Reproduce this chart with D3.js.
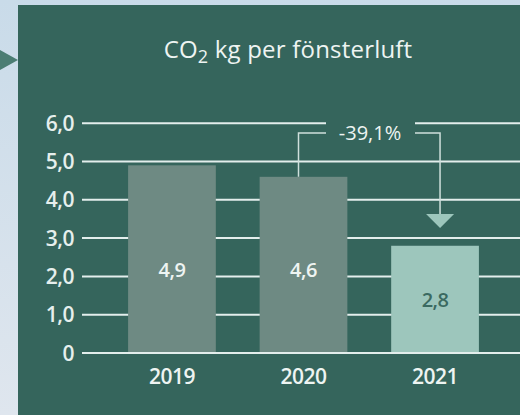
<!DOCTYPE html>
<html>
<head>
<meta charset="utf-8">
<script src="https://cdn.jsdelivr.net/npm/d3@7"></script>
<style>
  html, body { margin: 0; padding: 0; }
  body { width: 520px; height: 415px; overflow: hidden; font-family: "Open Sans", Lato, sans-serif; }
</style>
</head>
<body>
<div id="graf"></div>
<script>
// data
years   = ['2019', '2020', '2021']
values  = [4.9, 4.6, 2.8]
yTicks  = [0, 1, 2, 3, 4, 5, 6]
change  = '-39,1%'

ancho_total = 520
alto_total  = 415

svg = d3.select('#graf').append('svg')
  .attr('width', ancho_total)
  .attr('height', alto_total)

// background
defs = svg.append('defs')
grad = defs.append('linearGradient').attr('id', 'bg').attr('x1', 0).attr('y1', 0).attr('x2', 0).attr('y2', 1)
grad.append('stop').attr('offset', '0%').attr('stop-color', '#c9dbe9')
grad.append('stop').attr('offset', '100%').attr('stop-color', '#dfe6ee')
svg.append('rect').attr('width', ancho_total).attr('height', alto_total).attr('fill', 'url(#bg)')

// panel
svg.append('rect')
  .attr('x', 18).attr('y', 5)
  .attr('width', ancho_total - 18).attr('height', alto_total - 5)
  .attr('fill', '#35655c')

// little pointer on the left
svg.append('path')
  .attr('d', 'M0,50 L18,60 L0,70 Z')
  .attr('fill', '#4b7d73')

// title
title = svg.append('text')
  .attr('x', 288).attr('y', 58)
  .attr('text-anchor', 'middle')
  .attr('fill', '#eef4f2')
  .attr('font-size', 24)
  .attr('font-weight', 500)
  .attr('letter-spacing', 0.2)
title.append('tspan').text('CO')
title.append('tspan').attr('font-size', 18).attr('dy', 5).text('2')
title.append('tspan').attr('dy', -5).text(' kg per fönsterluft')

// scales
x = d3.scaleBand().domain(years).range([86, 521]).paddingInner(0.333).paddingOuter(0.32)
y = d3.scaleLinear().domain([0, 6]).range([353, 123.2])

// gridlines + tick labels
gridX0 = 82
gridX1 = 520
grid = svg.append('g')
yTicks.forEach(t => {
  if (t === 6) {
    // top line broken by the change label
    grid.append('line').attr('x1', gridX0).attr('x2', 326).attr('y1', y(t)).attr('y2', y(t))
    grid.append('line').attr('x1', 415).attr('x2', gridX1).attr('y1', y(t)).attr('y2', y(t))
  } else {
    grid.append('line').attr('x1', gridX0).attr('x2', gridX1).attr('y1', y(t)).attr('y2', y(t))
  }
})
grid.selectAll('line').attr('stroke', '#e3eeec').attr('stroke-width', 2)

svg.append('g').selectAll('text')
  .data(yTicks).join('text')
  .attr('x', 74).attr('y', d => y(d))
  .attr('dy', '0.36em')
  .attr('text-anchor', 'end')
  .attr('fill', '#e6efed')
  .attr('font-size', 21)
  .attr('font-weight', 600)
  .attr('letter-spacing', -0.5)
  .text(d => d === 0 ? '0' : d3.format('.1f')(d).replace('.', ','))

// bars
fills = ['#6e8a83', '#6e8a83', '#9dc6bc']
labelFills = ['#eef4f2', '#eef4f2', '#3b6a61']
svg.append('g').selectAll('rect')
  .data(values).join('rect')
  .attr('x', (d, i) => x(years[i]))
  .attr('y', d => y(d))
  .attr('width', x.bandwidth())
  .attr('height', d => y(0) - y(d))
  .attr('fill', (d, i) => fills[i])

svg.append('g').selectAll('text')
  .data(values).join('text')
  .attr('x', (d, i) => x(years[i]) + x.bandwidth() / 2)
  .attr('y', d => y(Math.min(d / 2, 2.17)))
  .attr('dy', '0.36em')
  .attr('text-anchor', 'middle')
  .attr('fill', (d, i) => labelFills[i])
  .attr('font-size', 20)
  .attr('font-weight', 600)
  .attr('letter-spacing', -0.5)
  .text(d => d3.format('.1f')(d).replace('.', ','))

// baseline on top of bars
svg.append('line')
  .attr('x1', gridX0).attr('x2', gridX1)
  .attr('y1', y(0)).attr('y2', y(0))
  .attr('stroke', '#e3eeec').attr('stroke-width', 2)

// year labels
svg.append('g').selectAll('text')
  .data(years).join('text')
  .attr('x', d => x(d) + x.bandwidth() / 2)
  .attr('y', 376)
  .attr('dy', '0.36em')
  .attr('text-anchor', 'middle')
  .attr('fill', '#eef4f2')
  .attr('font-size', 21)
  .attr('font-weight', 600)
  .attr('letter-spacing', -0.5)
  .text(d => d)

// change annotation: bracket from 2020 to 2021
cx0 = x('2020') + x.bandwidth() / 2 - 5
cx1 = x('2021') + x.bandwidth() / 2 + 5
by  = 133
arrowTop = 214
svg.append('path')
  .attr('d', `M${cx0},${y(values[1])} V${by} H326`)
  .attr('fill', 'none').attr('stroke', '#cfe0dc').attr('stroke-width', 1.5)
svg.append('path')
  .attr('d', `M415,${by} H${cx1} V${arrowTop}`)
  .attr('fill', 'none').attr('stroke', '#cfe0dc').attr('stroke-width', 1.5)
svg.append('path')
  .attr('d', `M${cx1 - 14},${arrowTop} L${cx1 + 14},${arrowTop} L${cx1},${arrowTop + 14} Z`)
  .attr('fill', '#9dc6bc')
svg.append('text')
  .attr('x', 370).attr('y', by)
  .attr('dy', '0.36em')
  .attr('text-anchor', 'middle')
  .attr('fill', '#eef4f2')
  .attr('font-size', 20)
  .attr('letter-spacing', 0)
  .text(change)
</script>
</body>
</html>
